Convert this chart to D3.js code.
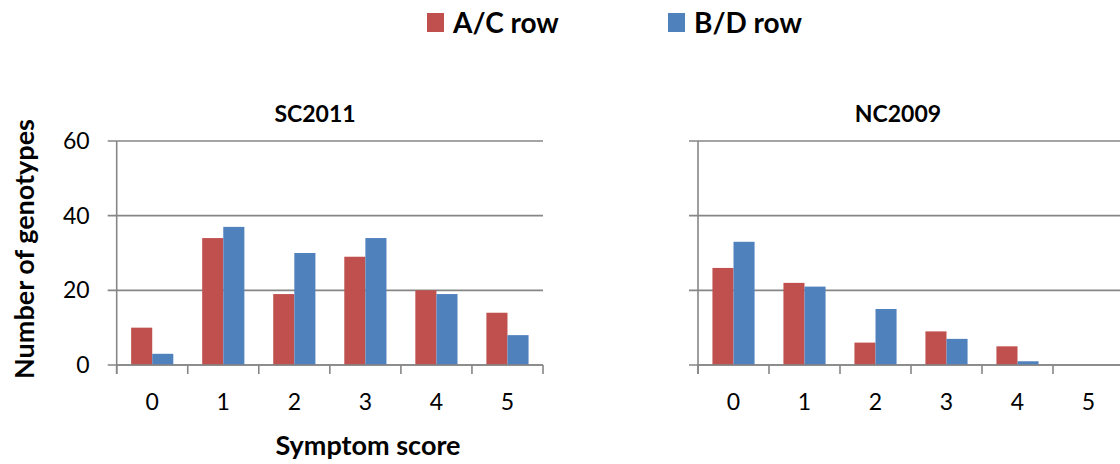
<!DOCTYPE html>
<html>
<head>
<meta charset="utf-8">
<script src="https://cdn.jsdelivr.net/npm/d3@7.9.0/dist/d3.min.js"></script>
<style>
  html, body { margin: 0; padding: 0; background: #fff; overflow: hidden; }
  text { font-family: Lato, "Open Sans", sans-serif; fill: #000; }
</style>
</head>
<body>
<svg id="chart" width="1120" height="464"></svg>
<script>
// data
const scores = ["0", "1", "2", "3", "4", "5"];
const seriesNames = ["A/C row", "B/D row"];
const seriesColors = ["#C0504D", "#4F81BD"];
const sc2011AC = [10, 34, 19, 29, 20, 14];
const sc2011BD = [3, 37, 30, 34, 19, 8];
const nc2009AC = [26, 22, 6, 9, 5, 0];
const nc2009BD = [33, 21, 15, 7, 1, 0];
const yTicks = [0, 20, 40, 60];

const svg = d3.select("#chart");
const grid = "#868686";

const y = d3.scaleLinear().domain([0, 60]).range([365, 141]);

function panel(title, ac, bd, left, right, titleX, showYLabels) {
  const g = svg.append("g");
  const x = d3.scaleBand().domain(scores).range([left, right]).padding(0);
  const gap = 1.37;
  const barW = x.bandwidth() / (2 + gap);
  const inner = d3.scaleBand().domain(seriesNames)
    .range([barW * gap / 2, barW * gap / 2 + 2 * barW]).padding(0);

  // gridlines + y ticks
  g.selectAll("line.grid").data(yTicks).enter().append("line")
    .attr("x1", left - 9).attr("x2", right)
    .attr("y1", d => y(d)).attr("y2", d => y(d))
    .attr("stroke", grid).attr("stroke-width", 1.6);

  if (showYLabels) {
    g.selectAll("text.yl").data(yTicks).enter().append("text")
      .attr("x", left - 27).attr("y", d => y(d))
      .attr("dy", "0.35em").attr("text-anchor", "end")
      .attr("font-size", 23).text(d => d);
  }

  // y axis line
  g.append("line").attr("x1", left).attr("x2", left)
    .attr("y1", y(60)).attr("y2", y(0) + 9)
    .attr("stroke", grid).attr("stroke-width", 1.6);

  // bars
  const rows = scores.map((s, i) => ({ s, vals: [ac[i], bd[i]] }));
  const grp = g.selectAll("g.cat").data(rows).enter().append("g")
    .attr("transform", d => `translate(${x(d.s)},0)`);
  grp.selectAll("rect").data(d => d.vals.map((v, k) => ({ v, k })))
    .enter().append("rect")
    .attr("x", d => inner(seriesNames[d.k]))
    .attr("width", inner.bandwidth())
    .attr("y", d => y(d.v))
    .attr("height", d => y(0) - y(d.v))
    .attr("fill", d => seriesColors[d.k]);

  // x axis line on top of bars
  g.append("line").attr("x1", left).attr("x2", right)
    .attr("y1", y(0)).attr("y2", y(0))
    .attr("stroke", grid).attr("stroke-width", 1.6);

  // x ticks at category boundaries
  const bounds = scores.map(s => x(s)).concat([right]);
  g.selectAll("line.xt").data(bounds).enter().append("line")
    .attr("x1", d => d).attr("x2", d => d)
    .attr("y1", y(0)).attr("y2", y(0) + 9)
    .attr("stroke", grid).attr("stroke-width", 1.6);

  g.selectAll("text.xl").data(scores).enter().append("text")
    .attr("x", d => x(d) + x.bandwidth() / 2).attr("y", 402)
    .attr("dy", "0.35em").attr("text-anchor", "middle")
    .attr("font-size", 23).text(d => d);

  g.append("text").attr("x", titleX).attr("y", 114)
    .attr("dy", "0.35em").attr("text-anchor", "middle")
    .attr("font-size", 23).attr("font-weight", "bold").text(title);
}

panel("SC2011", sc2011AC, sc2011BD, 116.7, 543, 315, true);
panel("NC2009", nc2009AC, nc2009BD, 698, 1124, 898, false);

// axis titles
svg.append("text").attr("x", 368).attr("y", 446)
  .attr("dy", "0.35em").attr("text-anchor", "middle")
  .attr("font-size", 27).attr("font-weight", "bold").text("Symptom score");
svg.append("text")
  .attr("transform", "translate(25,249) rotate(-90)")
  .attr("dy", "0.35em").attr("text-anchor", "middle")
  .attr("font-size", 27).attr("font-weight", "bold").text("Number of genotypes");

// legend
const legX = [427, 668];
const leg = svg.selectAll("g.leg").data(seriesNames).enter().append("g")
  .attr("transform", (d, i) => `translate(${legX[i]},13)`);
leg.append("rect").attr("width", 17).attr("height", 19)
  .attr("fill", (d, i) => seriesColors[i]);
leg.append("text").attr("x", 26).attr("y", 10).attr("dy", "0.35em")
  .attr("font-size", 28).attr("font-weight", "bold").text(d => d);
</script>
</body>
</html>
